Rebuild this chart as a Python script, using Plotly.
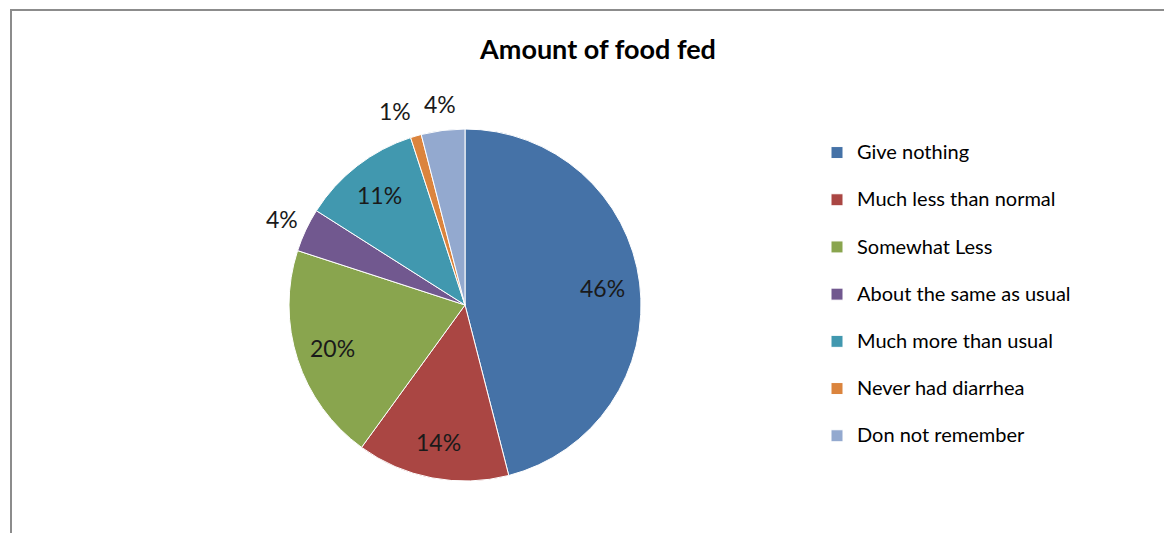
import math
import plotly.graph_objects as go

categories = ["Give nothing", "Much less than normal", "Somewhat Less",
              "About the same as usual", "Much more than usual",
              "Never had diarrhea", "Don not remember"]
values = [46, 14, 20, 4, 11, 1, 4]

# styles
colors = ["#4572A7", "#AA4643", "#89A54E", "#71588F", "#4198AF", "#DB843D", "#93A9CF"]
label_outside = [False, False, False, True, False, True, True]

OFF = 8  # page body margin
W, H = 1172 - OFF, 533 - OFF
cx, cy, R = 465 - OFF, 305 - OFF, 176
FONT = "Lato, sans-serif"
LABEL_SIZE = 23

legend_labels = ["<span style='font-size:20px'>%s</span><br> " % c for c in categories]

fig = go.Figure(go.Pie(
    labels=legend_labels,
    values=values,
    sort=False,
    direction="clockwise",
    rotation=0,
    marker=dict(colors=colors, line=dict(color="white", width=1)),
    textinfo="none",
    hoverinfo="label+percent",
    domain=dict(x=[(cx - R) / W, (cx + R) / W], y=[1 - (cy + R) / H, 1 - (cy - R) / H]),
    showlegend=True,
))

# percentage labels placed at each slice's mid-angle
total = sum(values)
positions = []
cum = 0.0
for v, outside in zip(values, label_outside):
    theta = math.radians(360.0 * (cum + v / 2.0) / total)
    cum += v
    r = R * (1.15 if outside else 0.79)
    positions.append([cx + r * math.sin(theta), cy - r * math.cos(theta)])

# simple overlap avoidance for outside labels (push earlier label left)
min_sep, line_h = 45, 24
outs = [i for i, o in enumerate(label_outside) if o]
for a, b in zip(outs, outs[1:]):
    dx = positions[b][0] - positions[a][0]
    dy = positions[b][1] - positions[a][1]
    if abs(dx) < min_sep and abs(dy) < line_h:
        positions[a][0] -= (min_sep - abs(dx))

annotations = []
for v, (px, py) in zip(values, positions):
    annotations.append(dict(
        x=px / W, y=1 - py / H, xref="paper", yref="paper",
        text="%d%%" % round(100.0 * v / total), showarrow=False,
        xanchor="center", yanchor="middle",
        font=dict(family=FONT, size=LABEL_SIZE, color="#1a1a1a"),
    ))

fig.update_layout(
    width=W, height=H,
    margin=dict(l=0, r=0, t=0, b=0),
    paper_bgcolor="white",
    font=dict(family=FONT, color="#000000"),
    title=dict(text="<b>Amount of food fed</b>", x=(598 - OFF) / W, xanchor="center",
               y=1 - (50 - OFF) / H, yanchor="middle",
               font=dict(family=FONT, size=27, color="#000000")),
    legend=dict(x=(817 - OFF) / W, xanchor="left", y=1 - (135 - OFF) / H, yanchor="top",
                font=dict(family=FONT, size=17, color="#000000"),
                valign="top", bgcolor="rgba(0,0,0,0)"),
    annotations=annotations,
    shapes=[dict(type="rect", xref="paper", yref="paper",
                 x0=(11 - OFF) / W, x1=1.05, y0=-0.05, y1=1 - (10 - OFF) / H,
                 line=dict(color="#8c8c8c", width=2), fillcolor="rgba(0,0,0,0)")],
)

fig.write_html("out.html")
